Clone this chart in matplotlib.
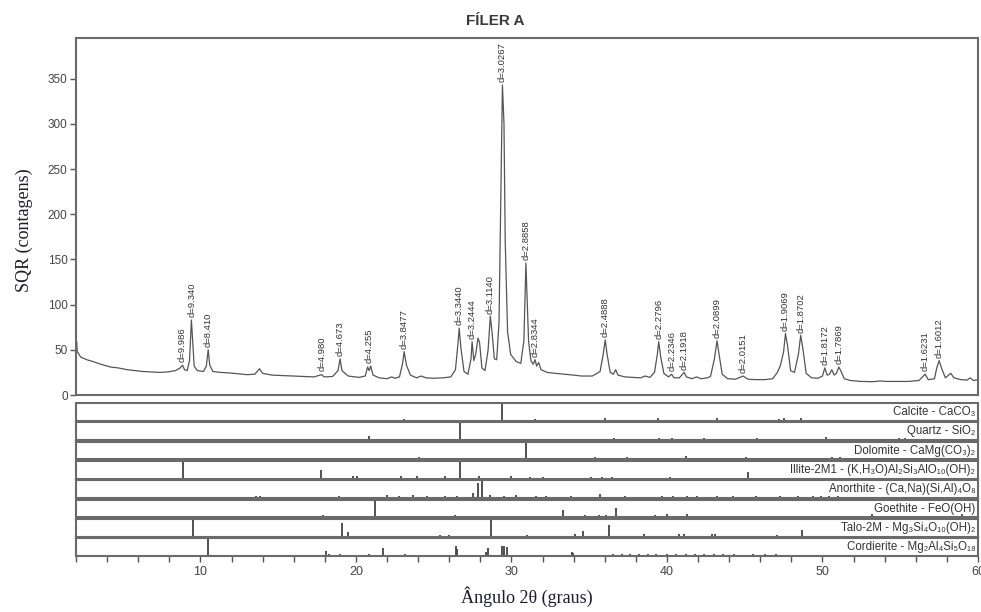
import numpy as np
import matplotlib
matplotlib.use("Agg")
import matplotlib.pyplot as plt
from matplotlib.ticker import MultipleLocator

two_theta = [2.00, 2.04, 2.08, 2.3, 2.7, 3.1, 3.6, 4.2, 4.7, 5.3, 5.8, 6.3, 6.9, 7.4, 7.9,
             8.4, 8.7, 8.85, 8.98, 9.15, 9.3, 9.42, 9.5, 9.6, 9.8, 10.2, 10.38, 10.5, 10.6, 10.8,
             11.3, 11.8, 12.4, 13.0, 13.5, 13.8, 14.0, 14.6, 15.3, 16.0, 16.6, 17.3, 17.8, 17.95,
             18.5, 18.85, 18.98, 19.1, 19.5, 20.2, 20.6, 20.75, 20.85, 20.95, 21.1, 21.5, 22.0,
             22.3, 22.5, 22.8, 23.0, 23.1, 23.25, 23.5, 23.9, 24.2, 24.5, 25.0, 25.6, 26.1, 26.4,
             26.55, 26.64, 26.75, 26.95, 27.2, 27.4, 27.47, 27.58, 27.7, 27.85, 27.95, 28.1, 28.3,
             28.5, 28.64, 28.75, 28.9, 29.05, 29.2, 29.3, 29.42, 29.52, 29.6, 29.75, 29.95, 30.3,
             30.6, 30.8, 30.93, 31.0, 31.1, 31.25, 31.4, 31.52, 31.62, 31.75, 31.9, 32.3, 32.8,
             33.4, 34.0, 34.5, 35.2, 35.7, 35.9, 36.03, 36.15, 36.35, 36.55, 36.7, 36.85, 37.3,
             37.8, 38.3, 38.6, 38.9, 39.2, 39.38, 39.47, 39.6, 39.8, 40.1, 40.3, 40.45, 40.8, 41.1,
             41.25, 41.6, 41.9, 42.2, 42.6, 42.8, 43.05, 43.22, 43.35, 43.55, 43.9, 44.4, 44.9,
             45.2, 45.7, 46.3, 46.8, 47.1, 47.3, 47.5, 47.62, 47.75, 47.95, 48.2, 48.45, 48.6,
             48.75, 48.95, 49.3, 49.7, 50.0, 50.15, 50.3, 50.45, 50.6, 50.75, 50.9, 51.05, 51.2,
             51.4, 51.8, 52.5, 53.2, 53.7, 54.1, 54.8, 55.5, 56.2, 56.6, 56.8, 57.2, 57.35, 57.5,
             57.65, 57.9, 58.25, 58.45, 58.9, 59.3, 59.5, 59.7, 60.0]
counts = [45, 59, 48, 42, 39, 37, 34, 31, 30, 28, 27, 26, 25.5, 25, 25.5,
          27, 30, 33, 28, 27, 38, 83, 60, 32, 27, 26, 32, 50, 33, 26,
          25, 24.5, 23.5, 22.5, 23, 29, 24, 22, 21.5, 21, 20.5, 20, 22.5, 20,
          20.5, 27, 40, 27, 21, 19.5, 21, 31, 27, 32, 22, 19, 18,
          20, 18.5, 20, 35, 48, 33, 22, 19, 21, 19, 18.5, 19, 20, 28,
          55, 74, 52, 26, 23, 40, 59, 38, 45, 63, 58, 30, 27,
          50, 87, 70, 40, 39, 80, 200, 343, 300, 170, 70, 45, 37,
          35, 60, 146, 110, 60, 38, 34, 39, 32, 36, 28, 25, 24,
          23, 22, 21, 21, 26, 45, 61, 45, 25, 23, 28, 22, 20,
          19.5, 19, 21, 19.5, 25, 45, 59, 42, 24, 20, 23, 19, 19, 25,
          20, 18, 20, 18, 19, 20.5, 40, 60, 45, 23, 18, 17.5, 21,
          17.5, 17, 17, 18, 25, 33, 48, 68, 55, 27, 25, 45, 66,
          50, 24, 19, 18.5, 21, 30, 22, 23, 28, 22, 24, 31, 26,
          18, 16, 15, 14.7, 15.5, 15, 15, 15, 16, 23, 17, 18, 30, 38,
          30, 19, 24, 19, 17, 16.5, 19, 16, 17]

# labelled reflections: 2theta, peak counts, d-spacing text
peak_pos = [8.85, 9.46, 10.51, 17.80, 18.98, 20.86, 23.10, 26.64, 27.47, 28.64, 29.42,
            30.93, 31.52, 36.03, 39.47, 40.30, 41.10, 43.22, 44.90, 47.62, 48.60, 50.15,
            51.05, 56.60, 57.50]
peak_cts = [33, 83, 50, 24, 40, 32, 48, 74, 59, 87, 343, 146, 39, 61, 59, 23, 25, 60, 21,
            68, 66, 30, 31, 23, 38]
peak_txt = ["d=9.986", "d=9.340", "d=8.410", "d=4.980", "d=4.673", "d=4.255", "d=3.8477",
            "d=3.3440", "d=3.2444", "d=3.1140", "d=3.0267", "d=2.8858", "d=2.8344",
            "d=2.4888", "d=2.2796", "d=2.2346", "d=2.1918", "d=2.0899", "d=2.0151",
            "d=1.9069", "d=1.8702", "d=1.8172", "d=1.7869", "d=1.6231", "d=1.6012"]

# reference phases (stick patterns, relative intensity)
phase_names = ["Calcite - CaCO₃", "Quartz - SiO₂", "Dolomite - CaMg(CO₃)₂",
               "Illite-2M1 - (K,H₃O)Al₂Si₃AlO₁₀(OH)₂", "Anorthite - (Ca,Na)(Si,Al)₄O₈",
               "Goethite - FeO(OH)", "Talo-2M - Mg₃Si₄O₁₀(OH)₂", "Cordierite - Mg₂Al₄Si₅O₁₈"]
calcite_pos = [23.1, 29.42, 31.5, 36.0, 39.4, 43.2, 47.2, 47.5, 48.6]
calcite_int = [12, 100, 10, 16, 18, 18, 12, 17, 17]
quartz_pos = [20.86, 26.66, 36.6, 39.5, 40.3, 42.4, 45.8, 50.2, 54.9, 55.3]
quartz_int = [22, 100, 14, 14, 10, 12, 10, 16, 10, 10]
dolomite_pos = [22.05, 24.05, 30.96, 33.5, 35.4, 37.4, 41.2, 43.9, 45.1, 49.4, 50.6, 51.1]
dolomite_int = [10, 12, 100, 10, 12, 12, 22, 10, 12, 10, 12, 14]
illite_pos = [8.9, 17.75, 19.8, 20.05, 22.9, 23.9, 25.7, 26.7, 27.9, 29.95, 31.2, 32.0,
              35.1, 35.8, 36.45, 40.2, 45.2]
illite_int = [100, 50, 14, 14, 14, 14, 16, 100, 16, 16, 12, 12, 12, 12, 12, 12, 40]
anorthite_pos = [13.6, 13.8, 18.9, 22.0, 22.8, 23.7, 24.6, 25.7, 26.5, 27.5, 27.86, 28.1,
                 28.6, 29.5, 30.3, 31.6, 32.2, 33.8, 35.7, 37.3, 39.7, 40.4, 41.3, 41.9,
                 43.2, 44.25, 45.7, 47.3, 48.4, 49.4, 49.9, 50.4, 51.0]
anorthite_int = [10, 10, 12, 16, 14, 15, 14, 12, 12, 30, 85, 100, 18, 14, 15, 12, 10, 12,
                 22, 10, 10, 10, 10, 10, 12, 10, 10, 10, 10, 10, 10, 10, 10]
goethite_pos = [17.9, 21.25, 26.4, 33.3, 34.7, 35.6, 36.1, 36.7, 39.2, 40.0, 41.3, 43.4,
                45.1, 47.7, 50.0, 53.2, 59.0]
goethite_int = [14, 100, 12, 40, 12, 12, 12, 55, 12, 18, 18, 10, 10, 10, 10, 22, 18]
talc_pos = [9.5, 19.1, 19.5, 25.4, 26.0, 28.7, 31.0, 34.1, 34.6, 36.3, 38.5, 40.8, 41.1,
            42.9, 43.1, 47.1, 48.7]
talc_int = [100, 80, 25, 10, 10, 100, 10, 14, 30, 65, 18, 18, 14, 14, 14, 12, 40]
cordierite_pos = [10.47, 18.06, 18.3, 19.0, 20.85, 21.75, 23.15, 26.43, 26.5, 28.35, 28.5,
                  29.4, 29.5, 29.7, 33.9, 33.98, 36.5, 37.1, 37.6, 38.2, 38.8, 39.3, 40.0,
                  40.6, 41.2, 41.8, 42.4, 43.0, 43.6, 44.3, 45.5, 46.3, 47.0]
cordierite_int = [100, 30, 14, 14, 10, 45, 10, 55, 40, 25, 45, 60, 60, 50, 25, 20, 10, 10,
                  10, 10, 12, 10, 10, 12, 10, 10, 12, 10, 10, 10, 10, 10, 10]
phase_pos = [calcite_pos, quartz_pos, dolomite_pos, illite_pos, anorthite_pos,
             goethite_pos, talc_pos, cordierite_pos]
phase_int = [calcite_int, quartz_int, dolomite_int, illite_int, anorthite_int,
             goethite_int, talc_int, cordierite_int]

sans = ["Liberation Sans", "DejaVu Sans"]
serif = ["Liberation Serif", "DejaVu Serif"]
frame = "#6a6a6a"
W, H = 981, 612

fig = plt.figure(figsize=(W / 100, H / 100), dpi=100)

# main diffractogram
left, right = 76, 978
ax = fig.add_axes([left / W, 1 - 395 / H, (right - left) / W, (395 - 38) / H])
ax.plot(two_theta, counts, color="#555555", lw=0.9)
ax.set_xlim(2, 60)
ax.set_ylim(0, 395)
ax.set_yticks(np.arange(0, 351, 50))
ax.set_xticks([])
ax.tick_params(axis="y", direction="out", length=4, width=1, color="#555555",
               labelsize=8.5, labelcolor="#444444", pad=2)
for lab in ax.get_yticklabels():
    lab.set_family(sans)
for sp in ax.spines.values():
    sp.set_color(frame)
    sp.set_linewidth(1.5)

for x, y, t in zip(peak_pos, peak_cts, peak_txt):
    ax.annotate(t, (x, y), xytext=(0, 2), textcoords="offset points", rotation=90,
                ha="center", va="bottom", fontsize=6.8, color="#333333", family=sans)

# phase stick panels
top0, pitch, box_h = 403, 19.35, 17.7
for i in range(8):
    top = top0 + i * pitch
    pax = fig.add_axes([left / W, 1 - (top + box_h) / H, (right - left) / W, box_h / H])
    pax.vlines(phase_pos[i], 0, phase_int[i], color="#444444", lw=1.3)
    pax.set_xlim(2, 60)
    pax.set_ylim(0, 100)
    pax.set_yticks([])
    for sp in pax.spines.values():
        sp.set_color(frame)
        sp.set_linewidth(1.5)
    pax.text(0.997, 0.5, phase_names[i], transform=pax.transAxes, ha="right", va="center",
             fontsize=8.3, color="#333333", family=sans)
    if i < 7:
        pax.set_xticks([])
    else:
        pax.xaxis.set_major_locator(MultipleLocator(10))
        pax.xaxis.set_minor_locator(MultipleLocator(2))
        pax.tick_params(axis="x", which="both", direction="out", length=4, width=1,
                        color="#555555", labelsize=9, labelcolor="#444444", pad=3)
        for lab in pax.get_xticklabels():
            lab.set_family(sans)

fig.text(495 / W, 1 - 21 / H, "FÍLER A", ha="center", va="center", fontsize=11,
         fontweight="bold", color="#3a3a3a", family=sans)
fig.text(24 / W, 1 - 230 / H, "SQR (contagens)", rotation=90, ha="center", va="center",
         fontsize=13, color="#1c1c2c", family=serif)
fig.text(527 / W, 1 - 597 / H, "Ângulo 2θ (graus)", ha="center", va="center",
         fontsize=13, color="#1c1c2c", family=serif)

fig.savefig("out.png", dpi=100)
